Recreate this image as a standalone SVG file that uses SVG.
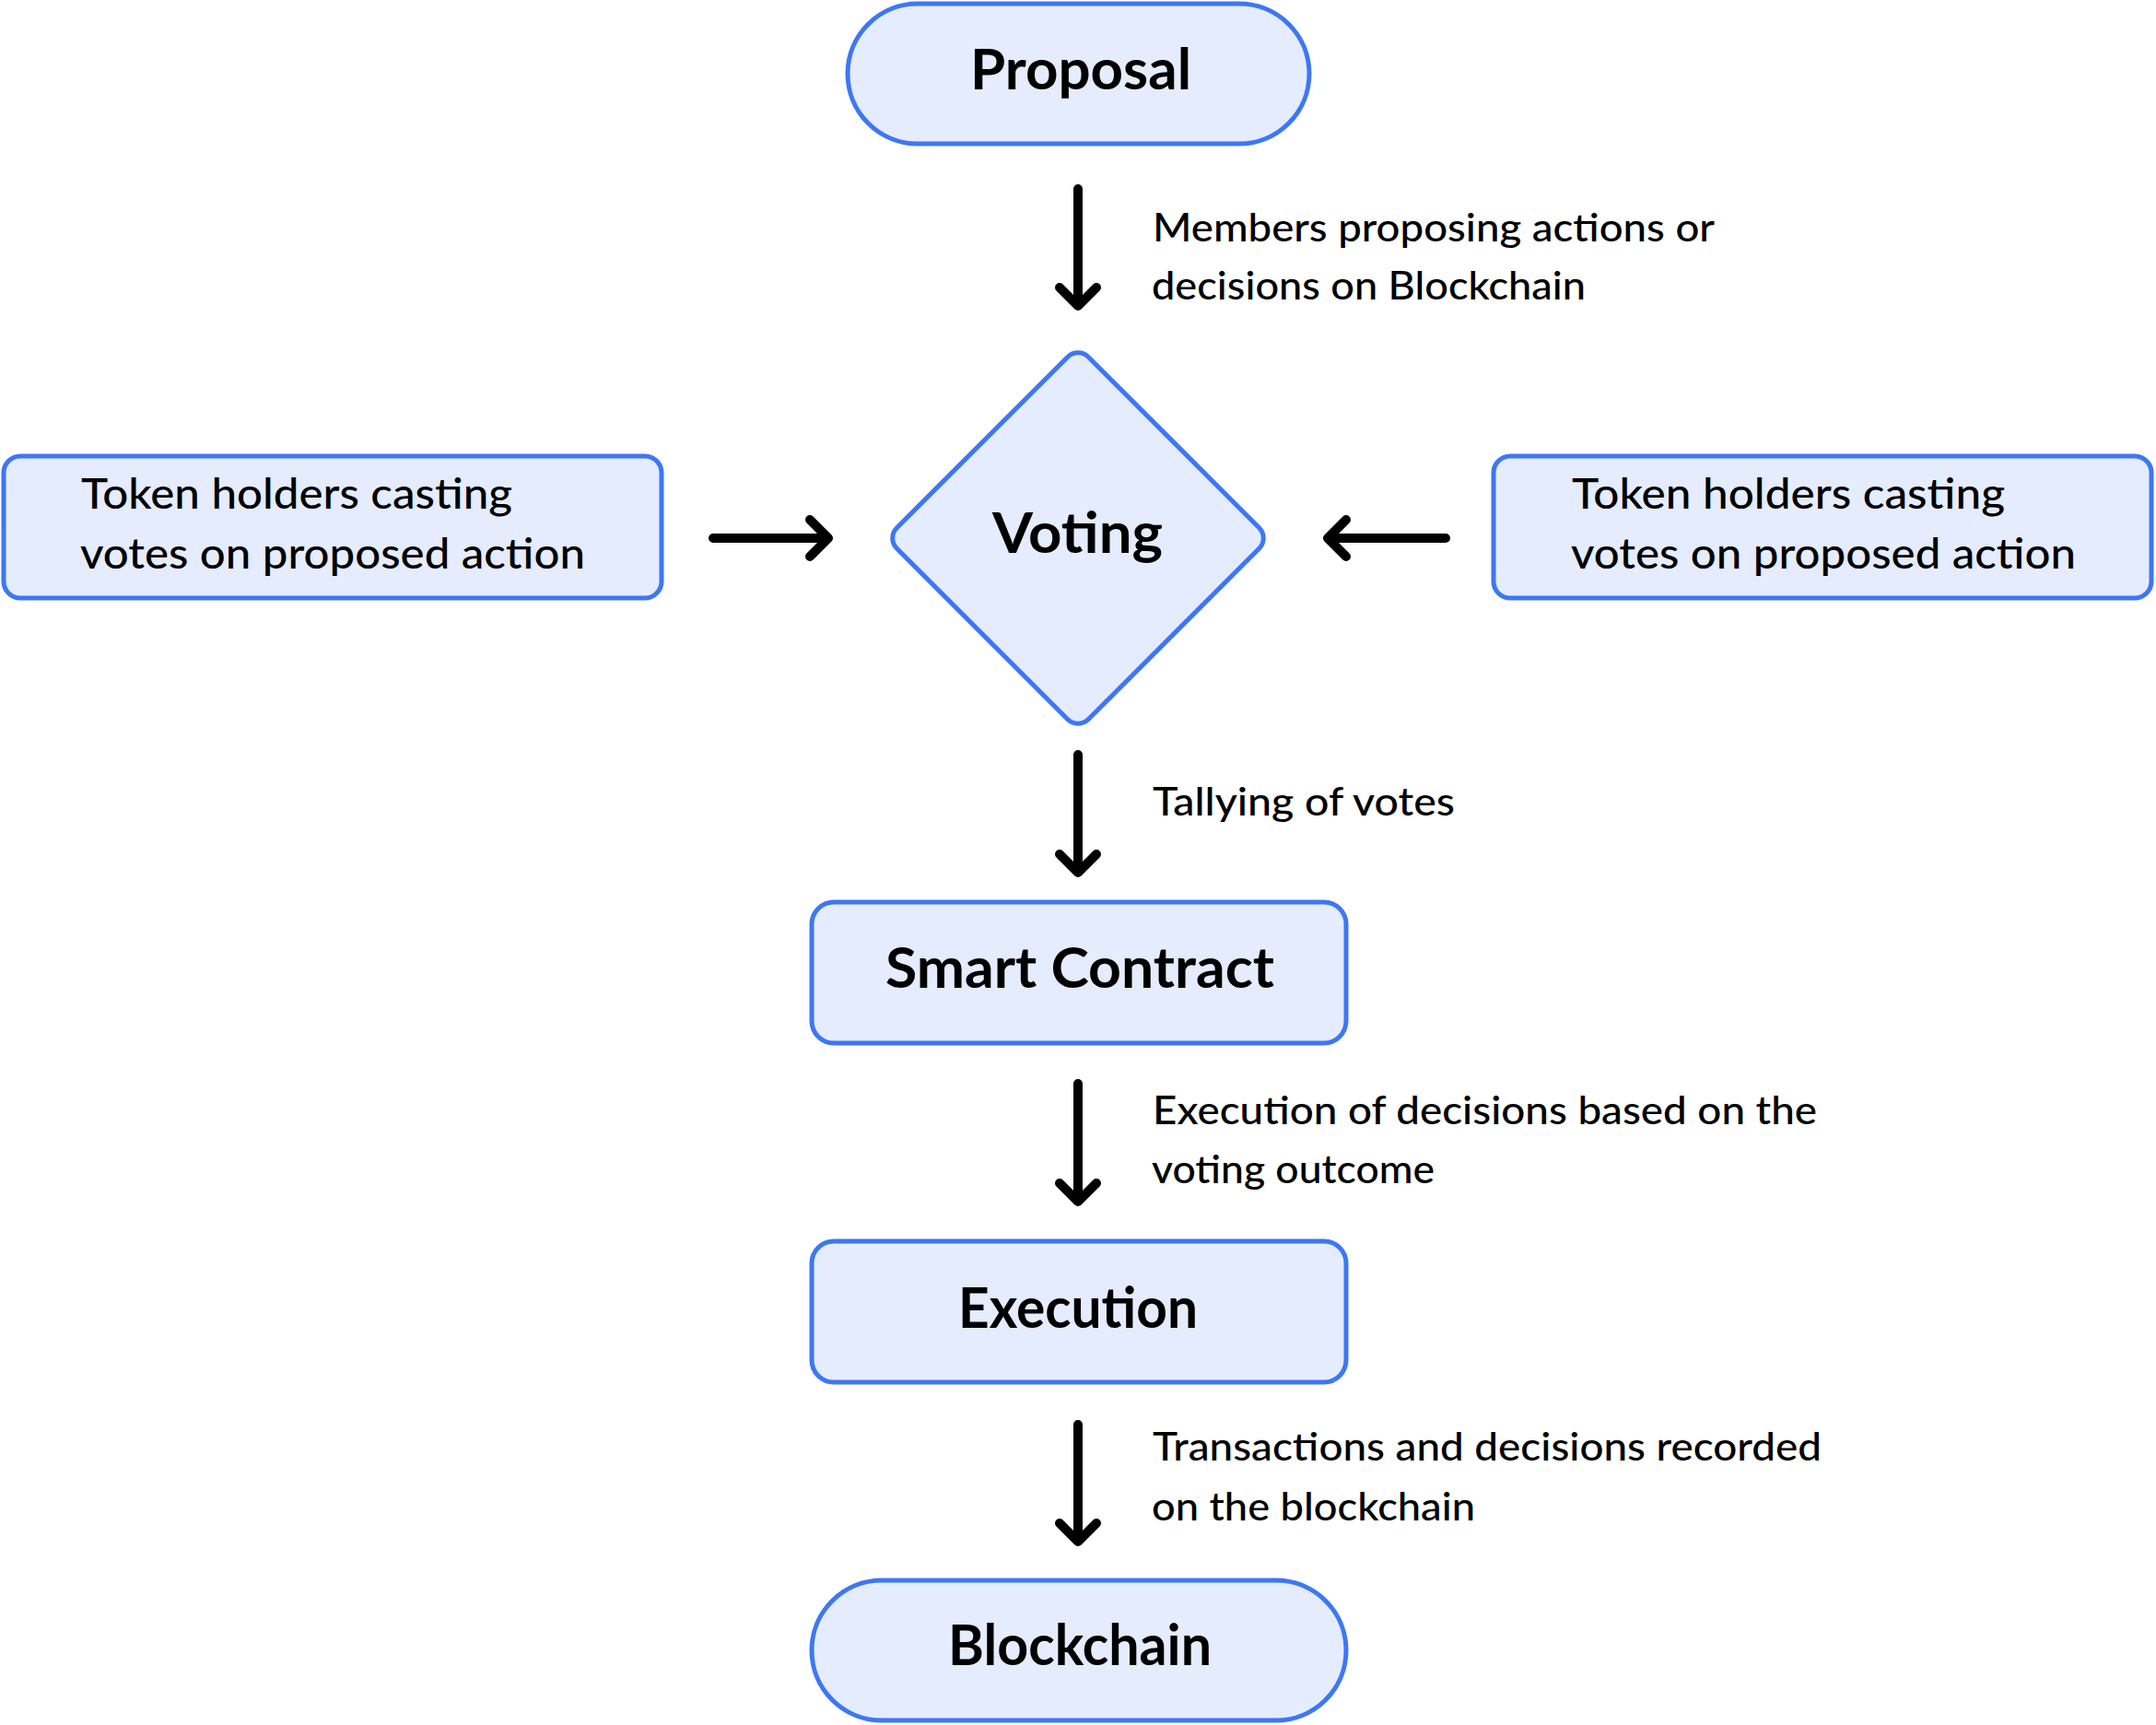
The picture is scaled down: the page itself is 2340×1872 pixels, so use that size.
<svg xmlns="http://www.w3.org/2000/svg" width="2340" height="1872" viewBox="0 0 2340 1872">
<style>
.node{fill:#E5ECFD;stroke:#3D77F5;stroke-width:5}
.t{font-family:Lato,"Noto Sans",sans-serif;fill:#000}
.big{font-size:62px;font-weight:700}
.mid{font-size:46px;font-weight:500}
.lbl{font-size:42px;font-weight:500}
.arr{fill:none;stroke:#000;stroke-width:10;stroke-linecap:round;stroke-linejoin:round}
</style>
<rect width="2340" height="1872" fill="#fff"/>
<g id="proposal">
<rect class="node" x="920" y="4" width="501" height="152" rx="76"/>
<text class="t big" x="1053" y="97" textLength="240" lengthAdjust="spacingAndGlyphs">Proposal</text>
</g>
<g id="voting">
<rect class="node" x="-147" y="-147" width="294" height="294" rx="16" transform="translate(1170 584) rotate(45)"/>
<text class="t big" x="1077" y="600" textLength="185" lengthAdjust="spacingAndGlyphs" font-weight="600">Voting</text>
</g>
<g id="left-voters">
<rect class="node" x="4" y="495" width="714" height="154" rx="18"/>
<text class="t mid" x="88" y="552" textLength="468" lengthAdjust="spacingAndGlyphs">Token holders casting</text>
<text class="t mid" x="87" y="617" textLength="548" lengthAdjust="spacingAndGlyphs">votes on proposed action</text>
</g>
<g id="right-voters">
<rect class="node" x="1621" y="495" width="714" height="154" rx="18"/>
<text class="t mid" x="1706" y="552" textLength="470" lengthAdjust="spacingAndGlyphs">Token holders casting</text>
<text class="t mid" x="1705" y="617" textLength="548" lengthAdjust="spacingAndGlyphs">votes on proposed action</text>
</g>
<g id="smart-contract">
<rect class="node" x="881" y="979" width="580" height="153" rx="24"/>
<text class="t big" x="961" y="1072" textLength="422" lengthAdjust="spacingAndGlyphs" font-weight="600">Smart Contract</text>
</g>
<g id="execution">
<rect class="node" x="881" y="1347" width="580" height="153" rx="24"/>
<text class="t big" x="1040" y="1441" textLength="260" lengthAdjust="spacingAndGlyphs" font-weight="600">Execution</text>
</g>
<g id="blockchain">
<rect class="node" x="881" y="1715" width="580" height="152" rx="76"/>
<text class="t big" x="1029" y="1807" textLength="286" lengthAdjust="spacingAndGlyphs" font-weight="600">Blockchain</text>
</g>
<g id="connectors">
<path class="arr" d="M1170 205V332M1150 312L1170 332L1190 312"/>
<path class="arr" d="M774 584H899M879 564L899 584L879 604"/>
<path class="arr" d="M1569 584H1441M1461 564L1441 584L1461 604"/>
<path class="arr" d="M1170 819V947M1150 927L1170 947L1190 927"/>
<path class="arr" d="M1170 1176V1304M1150 1284L1170 1304L1190 1284"/>
<path class="arr" d="M1170 1546V1673M1150 1653L1170 1673L1190 1653"/>
<text class="t lbl" x="1251" y="262" textLength="610" lengthAdjust="spacingAndGlyphs">Members proposing actions or</text>
<text class="t lbl" x="1250" y="325" textLength="471" lengthAdjust="spacingAndGlyphs">decisions on Blockchain</text>
<text class="t lbl" x="1251" y="885" textLength="328" lengthAdjust="spacingAndGlyphs">Tallying of votes</text>
<text class="t lbl" x="1251" y="1220" textLength="721" lengthAdjust="spacingAndGlyphs">Execution of decisions based on the</text>
<text class="t lbl" x="1250" y="1284" textLength="307" lengthAdjust="spacingAndGlyphs">voting outcome</text>
<text class="t lbl" x="1251" y="1585" textLength="726" lengthAdjust="spacingAndGlyphs">Transactions and decisions recorded</text>
<text class="t lbl" x="1250" y="1650" textLength="351" lengthAdjust="spacingAndGlyphs">on the blockchain</text>
</g>
</svg>
